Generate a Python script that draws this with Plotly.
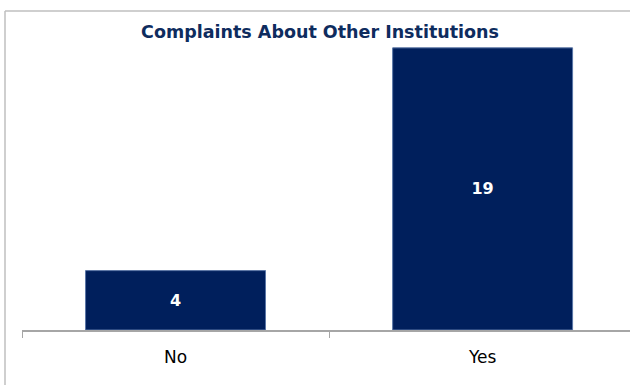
import plotly.graph_objects as go

# Complaint counts by whether they concern other institutions
categories = ["No", "Yes"]
counts = [4, 19]

NAVY = "#001F5C"
TITLE_COLOR = "#0E2C5E"
AXIS_GRAY = "#A6A6A6"

fig = go.Figure(
    go.Bar(
        x=categories,
        y=counts,
        width=0.586,
        marker=dict(color=NAVY, line=dict(color="#5A76A6", width=1)),
        text=[str(v) for v in counts],
        textposition="inside",
        insidetextanchor="middle",
        textangle=0,
        textfont=dict(family="DejaVu Sans", size=16, color="white", weight="bold"),
        cliponaxis=False,
    )
)

fig.update_layout(
    width=630,
    height=385,
    margin=dict(l=22, r=0, t=33, b=55),
    paper_bgcolor="white",
    plot_bgcolor="white",
    showlegend=False,
    title=dict(
        text="<b>Complaints About Other Institutions</b>",
        font=dict(family="DejaVu Sans", size=17.5, color=TITLE_COLOR),
        x=0.508,
        xanchor="center",
        y=1 - 32 / 385,
        yanchor="middle",
        yref="container",
    ),
    xaxis=dict(
        type="category",
        range=[-0.5, 1.48],
        tickson="boundaries",
        ticks="outside",
        ticklen=6,
        tickcolor=AXIS_GRAY,
        tickwidth=1,
        showline=True,
        linecolor=AXIS_GRAY,
        linewidth=1.5,
        showgrid=False,
        ticklabelstandoff=11,
        tickfont=dict(family="DejaVu Sans", size=17, color="black"),
    ),
    yaxis=dict(
        range=[0, 20],
        visible=False,
        showgrid=False,
        zeroline=False,
    ),
    shapes=[
        # chart frame (top and left edges)
        dict(type="line", xref="paper", yref="paper",
             x0=(5 - 22) / 608, x1=1.05, y0=1 + 22 / 297, y1=1 + 22 / 297,
             line=dict(color="#BFBFBF", width=1.5)),
        dict(type="line", xref="paper", yref="paper",
             x0=(5 - 22) / 608, x1=(5 - 22) / 608, y0=1 + 22 / 297, y1=-0.3,
             line=dict(color="#BFBFBF", width=1.5)),
    ],
)

fig.write_html("out.html")
